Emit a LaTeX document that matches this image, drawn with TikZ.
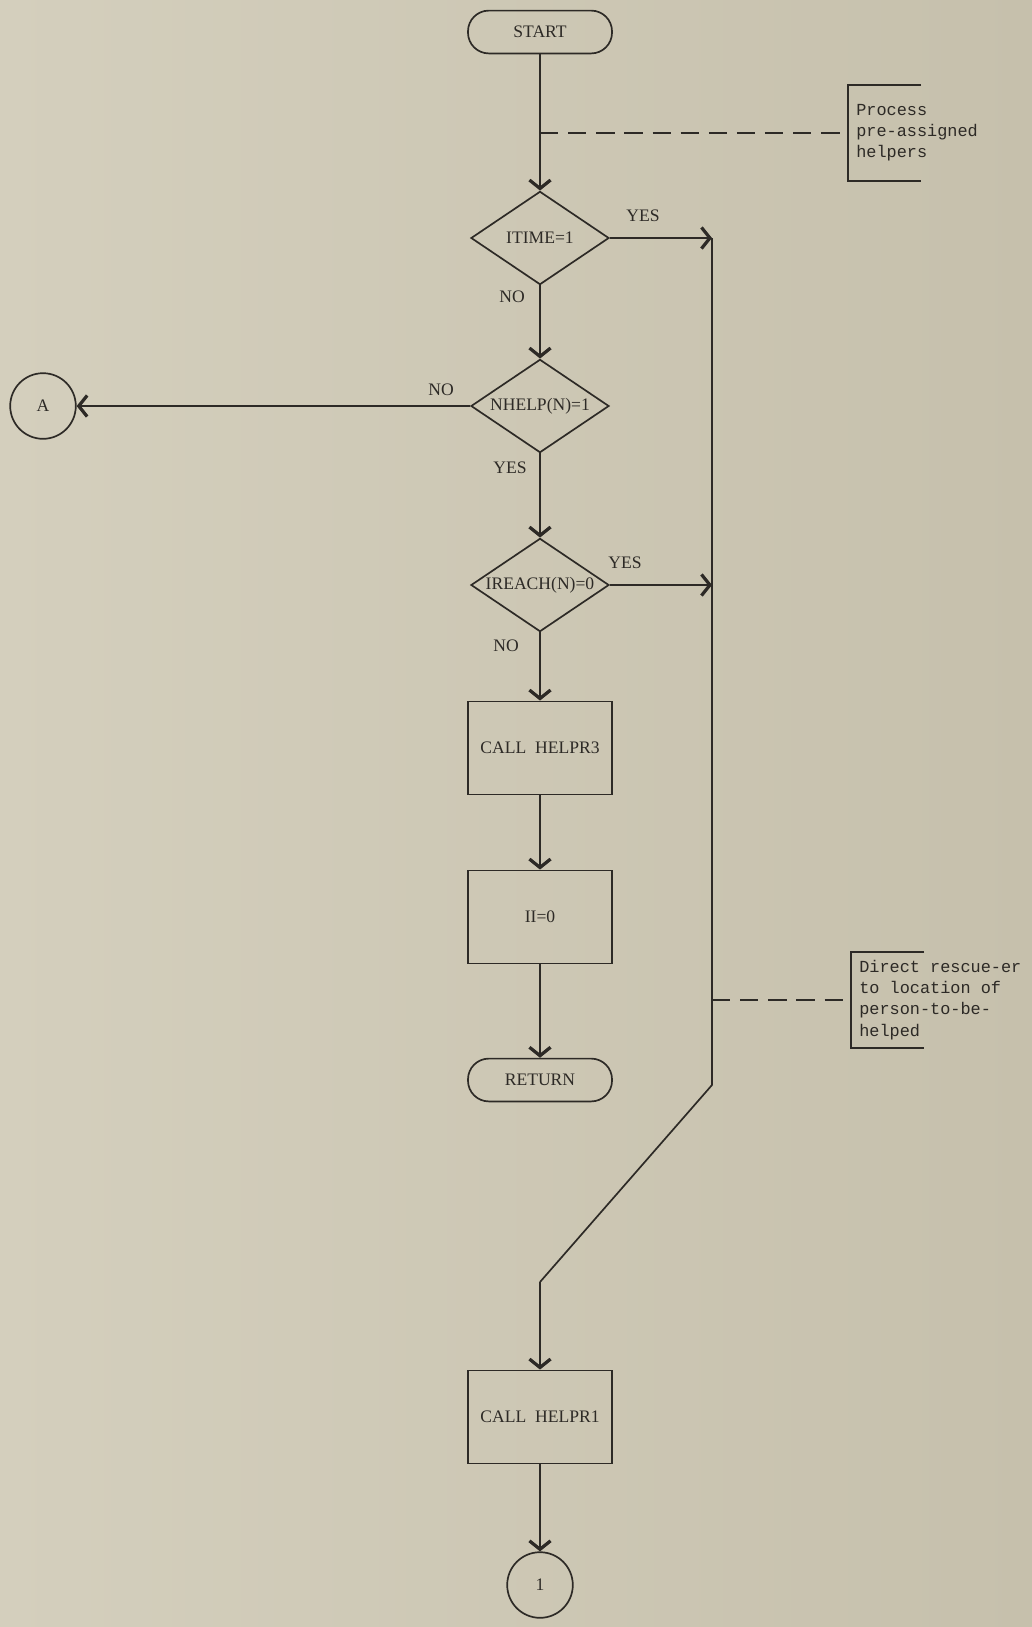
\documentclass[tikz,border=0pt]{standalone}
\usepackage{fontspec}
\setmainfont{Liberation Serif}
\setmonofont{Liberation Mono}
\usepackage{tikz}
\usetikzlibrary{shapes.geometric,arrows.meta,positioning,calc}

\definecolor{paper}{RGB}{212,207,189}
\definecolor{paperdark}{RGB}{198,192,172}
\definecolor{ink}{RGB}{45,42,38}

\tikzset{
  flow/.style={draw=ink, line width=1.2pt, text=ink, font=\fontsize{12.5}{15}\selectfont},
  procbox/.style={flow, rectangle, minimum width=3.6cm, minimum height=2.33cm},
  termbox/.style={flow, rectangle, rounded corners=0.52cm, minimum width=3.6cm, minimum height=1.07cm},
  decision/.style={flow, diamond, aspect=1.5, inner sep=0pt, minimum width=3.45cm, minimum height=2.33cm},
  connector/.style={flow, circle, inner sep=0pt, minimum size=1.64cm},
  note/.style={font=\ttfamily\fontsize{12}{15}\selectfont, text=ink, align=left, anchor=west, inner xsep=0.2cm, minimum height=2.4cm},
  flowline/.style={ink, line width=1.2pt},
  flowarrow/.style={flowline, -{Straight Barb[length=6pt,width=15pt,line width=2.3pt]}},
  guide/.style={ink, line width=1pt, dash pattern=on 13pt off 7pt},
  answer/.style={font=\fontsize{12.5}{15}\selectfont, text=ink}
}

\begin{document}
\begin{tikzpicture}[x=0.025cm, y=-0.025cm]
    % Paper
    \shade[left color=paper, right color=paperdark] (0,0) rectangle (1032,1627);
    \useasboundingbox (0,0) rectangle (1032,1627);

    % Main column
    \node[termbox] (start) at (540,32) {START};
    \node[decision] (itime) at (540,238) {ITIME=1};
    \node[decision] (nhelp) at (540,406) {NHELP(N)=1};
    \node[decision] (ireach) at (540,585) {IREACH(N)=0};
    \node[procbox] (helpr3) at (540,748) {CALL\ \ HELPR3};
    \node[procbox] (iizero) at (540,917) {II=0};
    \node[termbox] (return) at (540,1080) {RETURN};
    \node[procbox] (helpr1) at (540,1417) {CALL\ \ HELPR1};

    % Off-page connectors
    \node[connector] (offA) at (43,406) {A};
    \node[connector] (off1) at (540,1585) {1};

    % Comments (right)
    \node[note] (note1) at (848,133) {Process\\pre-assigned\\helpers};
    \node[note] (note2) at (851,1000) {Direct rescue-er\\to location of\\person-to-be-\\helped};
    \foreach \n in {note1, note2} {
        \draw[flowline] ($(\n.north west)+(73,0)$) -- (\n.north west) -- (\n.south west) -- ++(73,0);
    }

    % Branch labels
    \foreach \n/\x/\y/\t in {yes1/643/216/YES, no1/512/297/NO, no2/441/390/NO,
                             yes2/510/468/YES, yes3/625/563/YES, no3/506/646/NO} {
        \node[answer] (\n) at (\x,\y) {\t};
    }

    % Flow down the main column
    \draw[flowarrow] (start) -- (itime);
    \draw[flowarrow] (itime) -- (nhelp);
    \draw[flowarrow] (nhelp) -- (ireach);
    \draw[flowarrow] (ireach) -- (helpr3);
    \draw[flowarrow] (helpr3) -- (iizero);
    \draw[flowarrow] (iizero) -- (return);
    \draw[flowarrow] (helpr1) -- (off1);
    \draw[flowarrow] (nhelp.west) -- (offA);

    % YES bus on the right
    \coordinate (bus) at (712,0);
    \coordinate (bend) at (712,1085);
    \coordinate (kink) at (540,1282);
    \draw[flowarrow] (itime.east) -- (itime.east -| bus);
    \draw[flowarrow] (ireach.east) -- (ireach.east -| bus);
    \draw[flowline] (itime.east -| bus) -- (bend) -- (kink);
    \draw[flowarrow] (kink) -- (helpr1.north);

    % Dashed ties to the comments
    \coordinate (tap1) at (540,133);
    \coordinate (tap2) at (712,1000);
    \draw[guide] (tap1) -- (note1.west);
    \draw[guide] (tap2) -- (note2.west);
\end{tikzpicture}
\end{document}
